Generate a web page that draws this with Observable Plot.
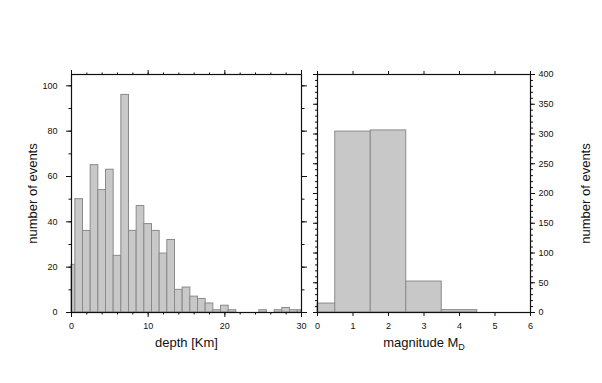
<!DOCTYPE html>
<html>
<head>
<meta charset="utf-8">
<script src="https://cdn.jsdelivr.net/npm/d3@7"></script>
<script src="https://cdn.jsdelivr.net/npm/@observablehq/plot@0.6"></script>
<style>
  html, body { margin: 0; padding: 0; background: #fff; }
  #chart { position: relative; width: 602px; height: 383px; overflow: hidden; }
  #chart svg { position: absolute; top: 0; }
</style>
</head>
<body>
<div id="chart"></div>
<script>
// Depth histogram: bin centres (km) and counts
const depthCenters = d3.range(0, 31);
const depthCounts = [21, 50, 36, 65, 54, 63, 25, 96, 36, 47, 39, 36, 26, 32, 10, 11, 7, 6, 4, 1, 3, 1, 0, 0, 0, 1, 0, 1, 2, 1, 1];
// Magnitude histogram: bin centres and counts
const magCenters = [0, 1, 2, 3, 4, 5, 6];
const magCounts = [15, 304, 306, 52, 4, 0, 0];

const depthTicks = [0, 10, 20, 30];
const depthMinorTicks = d3.range(0, 31, 2);
const countTicksL = [0, 20, 40, 60, 80, 100];
const countMinorL = d3.range(0, 101, 10);
const magTicks = [0, 1, 2, 3, 4, 5, 6];
const countTicksR = d3.range(0, 401, 50);
const countMinorR = d3.range(0, 401, 10);

const depthData = depthCenters.map((c, i) => ({x1: Math.max(c - 0.5, 0), x2: Math.min(c + 0.5, 30), y: depthCounts[i]}));
const magData = magCenters.map((c, i) => ({x1: Math.max(c - 0.5, 0), x2: Math.min(c + 0.5, 6), y: magCounts[i]}));

const FONT = "'Liberation Sans', Arial, Helvetica, sans-serif";
const barStyle = {fill: "#c8c8c8", stroke: "#8a8a8a", strokeWidth: 1, insetLeft: 0, insetRight: 0};
const blank = () => "";

const left = Plot.plot({
  width: 310, height: 383,
  marginLeft: 71, marginRight: 9, marginTop: 74, marginBottom: 71,
  style: {fontFamily: FONT, fontSize: "9px", color: "#111", background: "transparent", overflow: "visible"},
  x: {domain: [0, 30]},
  y: {domain: [0, 105]},
  marks: [
    Plot.rectY(depthData, {x1: "x1", x2: "x2", y: "y", ...barStyle}),
    Plot.axisX({anchor: "bottom", ticks: depthTicks, tickSize: 5, tickPadding: 5, tickFormat: d3.format("d"), label: null}),
    Plot.axisX({anchor: "bottom", ticks: depthMinorTicks, tickSize: 2.5, tickFormat: blank, label: null}),
    Plot.axisX({anchor: "top", ticks: depthTicks, tickSize: 5, tickFormat: blank, label: null}),
    Plot.axisX({anchor: "top", ticks: depthMinorTicks, tickSize: 2.5, tickFormat: blank, label: null}),
    Plot.axisY({anchor: "left", ticks: countTicksL, tickSize: 5, tickPadding: 9, tickFormat: d3.format("d"), label: null}),
    Plot.axisY({anchor: "left", ticks: countMinorL, tickSize: 2.5, tickFormat: blank, label: null}),
    Plot.axisY({anchor: "right", ticks: countTicksL, tickSize: 5, tickFormat: blank, label: null}),
    Plot.axisY({anchor: "right", ticks: countMinorL, tickSize: 2.5, tickFormat: blank, label: null}),
    Plot.frame({stroke: "#111", strokeWidth: 1.2}),
    Plot.text(["depth [Km]"], {frameAnchor: "bottom", dy: 25, lineAnchor: "top", textAnchor: "middle", fontSize: 13, fill: "#111"}),
    Plot.text(["number of events"], {frameAnchor: "left", dx: -39, rotate: -90, textAnchor: "middle", lineAnchor: "middle", fontSize: 13, fill: "#111"})
  ]
});
left.style.left = "0px";

const right = Plot.plot({
  width: 297, height: 383,
  marginLeft: 12, marginRight: 72, marginTop: 74, marginBottom: 71,
  style: {fontFamily: FONT, fontSize: "9px", color: "#111", background: "transparent", overflow: "visible"},
  x: {domain: [0, 6]},
  y: {domain: [0, 400]},
  marks: [
    Plot.rectY(magData, {x1: "x1", x2: "x2", y: "y", ...barStyle}),
    Plot.axisX({anchor: "bottom", ticks: magTicks, tickSize: 4, tickPadding: 6, tickFormat: d3.format("d"), label: null}),
    Plot.axisX({anchor: "top", ticks: magTicks, tickSize: 4, tickFormat: blank, label: null}),
    Plot.axisY({anchor: "right", ticks: countTicksR, tickSize: 4, tickPadding: 4, tickFormat: d3.format("d"), label: null}),
    Plot.axisY({anchor: "right", ticks: countMinorR, tickSize: 2, tickFormat: blank, label: null}),
    Plot.axisY({anchor: "left", ticks: countTicksR, tickSize: 4, tickFormat: blank, label: null}),
    Plot.axisY({anchor: "left", ticks: countMinorR, tickSize: 2, tickFormat: blank, label: null}),
    Plot.frame({stroke: "#111", strokeWidth: 1.2}),
    Plot.text(["magnitude MD"], {frameAnchor: "bottom", dy: 25, lineAnchor: "top", textAnchor: "middle", fontSize: 13, fill: "#111"}),
    Plot.text(["number of events"], {frameAnchor: "right", dx: 55, rotate: -90, textAnchor: "middle", lineAnchor: "middle", fontSize: 13, fill: "#111"})
  ]
});
right.style.left = "305px";

// subscript D in the magnitude label
d3.select(right).selectAll("text").filter(function() { return this.textContent === "magnitude MD"; })
  .each(function() {
    const t = d3.select(this);
    t.text("magnitude M");
    t.append("tspan").attr("dy", "0.35em").attr("font-size", "9px").text("D");
  });

document.getElementById("chart").append(left, right);
</script>
</body>
</html>
